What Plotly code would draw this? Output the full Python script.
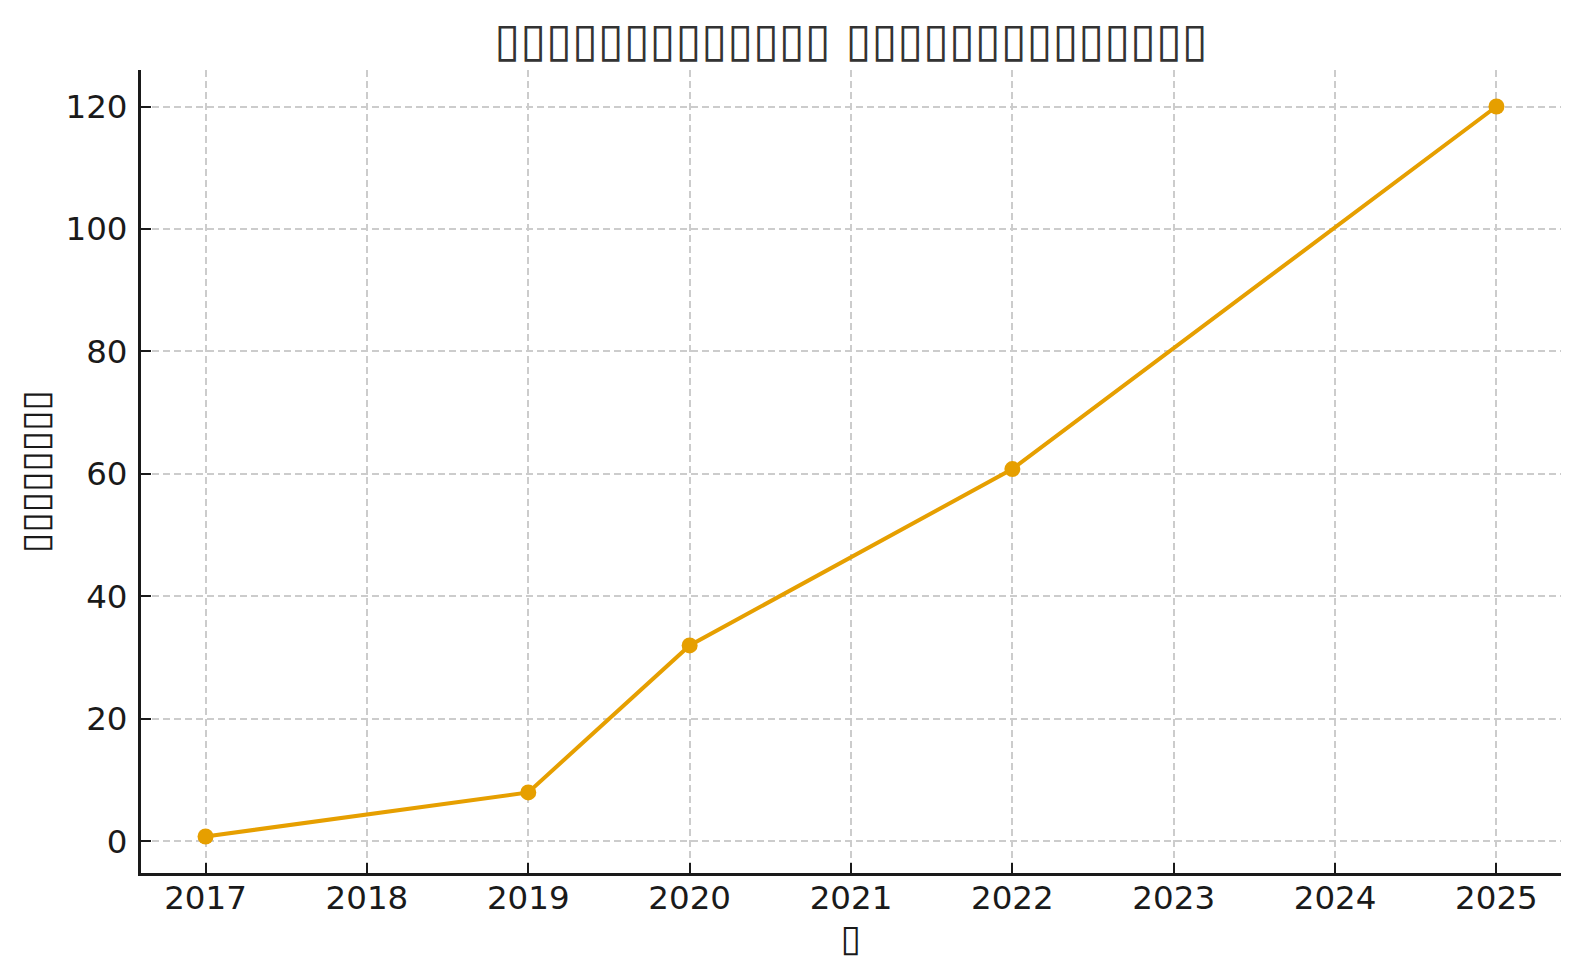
import plotly.graph_objects as go

years = [2017, 2019, 2020, 2022, 2025]
values = [0.8, 8, 32, 60.8, 120]
x_ticks = [2017, 2018, 2019, 2020, 2021, 2022, 2023, 2024, 2025]
y_ticks = [0, 20, 40, 60, 80, 100, 120]

# Original text rendered as missing-glyph boxes; reproduced with box characters
title_text = "▯" * 13 + " " + "▯" * 14
y_title = "▯" * 8
x_title = "▯"

OFF = 8  # page body margin
W, H = 1579, 980
L, R, T, B = 141, 1561, 70, 873

fig = go.Figure()
fig.add_trace(go.Scatter(
    x=years, y=values, mode="lines+markers",
    line=dict(color="#E69F00", width=4),
    marker=dict(color="#E69F00", size=16),
    showlegend=False, cliponaxis=False,
))

font_family = "DejaVu Sans"
axis_common = dict(
    showgrid=True, gridcolor="#cccccc", griddash="7px,4px", gridwidth=1.5,
    showline=True, linecolor="#1a1a1a", linewidth=3, mirror=False,
    ticks="inside", ticklen=10, tickwidth=2, tickcolor="#1a1a1a",
    tickfont=dict(size=32.5, family=font_family, color="#1a1a1a"),
    zeroline=False,
)
fig.update_layout(
    width=W, height=H,
    paper_bgcolor="white", plot_bgcolor="white",
    margin=dict(l=L - OFF, r=W - R + OFF, t=T - OFF, b=H - B + OFF),
    font=dict(family=font_family, color="#1a1a1a"),
    title=dict(text=title_text, x=((L + R) / 2 - OFF) / W, xanchor="center",
               y=1 - (40 - OFF) / H, yanchor="middle",
               font=dict(size=47, color="#333333", family=font_family)),
    xaxis=dict(
        range=[2016.6, 2025.4], tickvals=x_ticks, ticktext=[str(t) for t in x_ticks],
        title=dict(text=x_title, font=dict(size=37, family=font_family), standoff=8),
        ticklabelstandoff=-6,
        **axis_common,
    ),
    yaxis=dict(
        range=[-5.16, 125.96], tickvals=y_ticks,
        title=dict(text=y_title, font=dict(size=37, family=font_family), standoff=6),
        ticklabelstandoff=4,
        **axis_common,
    ),
)

fig.write_html("out.html")
